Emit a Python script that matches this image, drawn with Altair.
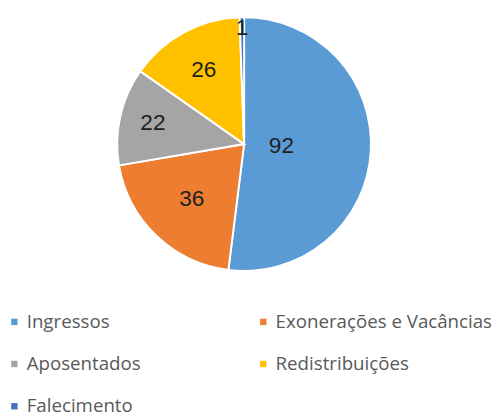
import altair as alt
import pandas as pd

categories = ["Ingressos", "Exonerações e Vacâncias", "Aposentados", "Redistribuições", "Falecimento"]
values = [92, 36, 22, 26, 1]
colors = ["#5B9BD5", "#ED7D31", "#A5A5A5", "#FFC000", "#4472C4"]

df = pd.DataFrame({
    "categoria": categories,
    "valor": values,
    "ordem": list(range(len(categories))),
})

legend = alt.Legend(
    title=None,
    orient="none",
    direction="horizontal",
    legendX=-3,
    legendY=306,
    columns=2,
    gridAlign="all",
    columnPadding=10,
    rowPadding=23,
    padding=0,
    symbolType="square",
    symbolSize=42,
    symbolStrokeWidth=0,
    labelFont="Open Sans",
    labelFontSize=19,
    labelColor="#595959",
    labelOffset=3,
    labelLimit=400,
)

arcs = alt.Chart(df).mark_arc(radius=129, stroke="white", strokeWidth=2).encode(
    theta=alt.Theta("valor:Q", stack=True),
    order=alt.Order("ordem:Q"),
    color=alt.Color(
        "categoria:N",
        scale=alt.Scale(domain=categories, range=colors),
        sort=categories,
        legend=legend,
    ),
)

labels = alt.Chart(df).transform_joinaggregate(
    total="sum(valor)"
).transform_window(
    cum="sum(valor)", sort=[alt.SortField("ordem")], frame=[None, 0]
).transform_calculate(
    mid="(datum.cum - datum.valor / 2) / datum.total * 2 * PI",
    r="[38, 77, 95, 86, 118][datum.ordem]",
).mark_text(
    font="Liberation Sans", fontSize=23, align="center", baseline="middle", color="#1f1f1f"
).encode(
    theta=alt.Theta("mid:Q", scale=None, stack=None),
    radius=alt.Radius("r:Q", scale=None, stack=None),
    text=alt.Text("valor:Q"),
)

chart = alt.layer(arcs, labels).properties(
    width=480,
    height=270,
    autosize=alt.AutoSizeParams(type="none"),
    padding={"left": 0, "top": 0, "right": 11, "bottom": 134},
).configure_view(stroke=None)

chart.save("out.html", embed_options={"renderer": "svg", "actions": False})
